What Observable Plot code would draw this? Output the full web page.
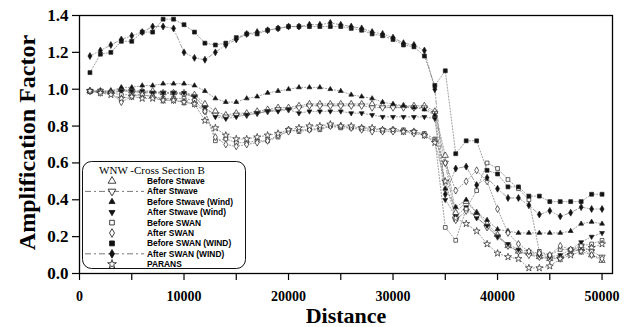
<!DOCTYPE html>
<html><head><meta charset="utf-8">
<script src="https://cdn.jsdelivr.net/npm/d3@7"></script>
<script src="https://cdn.jsdelivr.net/npm/@observablehq/plot@0.6"></script>
<style>
body{margin:0;background:#fff;}
#wrap{position:relative;width:629px;height:327px;}
#legend{position:absolute;left:82px;top:161px;}
</style></head><body><div id="wrap"></div>
<script>
const distance = [1000,2000,3000,4000,5000,6000,7000,8000,9000,10000,11000,12000,13000,14000,15000,16000,17000,18000,19000,20000,21000,22000,23000,24000,25000,26000,27000,28000,29000,30000,31000,32000,33000,34000,35000,36000,37000,38000,39000,40000,41000,42000,43000,44000,45000,46000,47000,48000,49000,50000];
const seriesNames = ["Before Stwave","After Stwave","Before Stwave (Wind)","After Stwave (Wind)","Before SWAN","After SWAN","Before SWAN (WIND)","After SWAN (WIND)","PARANS"];
const legendTitle = "WNW -Cross Section B";
const xTicks = [0,5000,10000,15000,20000,25000,30000,35000,40000,45000,50000];
const yTicks = [0,0.2,0.4,0.6,0.8,1.0,1.2,1.4];

const beforeStwave = [0.99,0.99,0.99,1.00,0.99,0.99,0.99,0.98,0.98,0.98, 0.97,0.92,0.88,0.86,0.87,0.87,0.88,0.89,0.90,0.90, 0.91,0.92,0.92,0.92,0.92,0.92,0.92,0.92,0.91,0.91, 0.91,0.91,0.91,0.88,0.64,0.33,0.39,0.33,0.27,0.21, 0.15,0.12,0.11,0.09,0.08,0.09,0.11,0.14,0.10,0.07];
const afterStwave = [0.99,0.99,0.98,0.99,0.99,0.98,0.98,0.98,0.98,0.97, 0.96,0.90,0.86,0.85,0.86,0.86,0.87,0.88,0.89,0.89, 0.90,0.91,0.91,0.91,0.91,0.91,0.91,0.90,0.90,0.90, 0.90,0.90,0.90,0.87,0.60,0.29,0.34,0.31,0.25,0.20, 0.15,0.12,0.10,0.09,0.08,0.08,0.12,0.15,0.12,0.09];
const beforeStwaveWind = [0.99,0.99,0.99,1.01,1.01,1.02,1.02,1.03,1.03,1.03, 1.02,0.99,0.95,0.93,0.93,0.95,0.96,0.98,0.99,1.00, 1.01,1.01,1.01,1.00,0.99,0.97,0.96,0.95,0.93,0.92, 0.91,0.90,0.89,0.86,0.46,0.36,0.40,0.33,0.29,0.24, 0.23,0.22,0.22,0.22,0.22,0.22,0.23,0.27,0.28,0.27];
const afterStwaveWind = [0.99,0.98,0.98,0.99,0.99,0.99,0.98,0.98,0.98,0.98, 0.96,0.90,0.85,0.84,0.85,0.86,0.87,0.88,0.88,0.89, 0.87,0.88,0.88,0.88,0.88,0.87,0.87,0.86,0.85,0.85, 0.85,0.85,0.85,0.84,0.40,0.31,0.36,0.30,0.26,0.20, 0.16,0.13,0.12,0.10,0.09,0.10,0.13,0.17,0.20,0.22];
const beforeSWAN = [0.99,0.99,0.98,0.97,0.97,0.97,0.96,0.95,0.95,0.95, 0.94,0.88,0.72,0.73,0.71,0.71,0.72,0.72,0.74,0.78, 0.77,0.78,0.78,0.80,0.79,0.79,0.79,0.78,0.78,0.78, 0.78,0.77,0.76,0.73,0.25,0.18,0.35,0.45,0.60,0.57, 0.51,0.46,0.40,0.12,0.10,0.13,0.13,0.15,0.16,0.18];
const afterSWAN = [0.99,0.98,0.98,0.93,0.96,0.97,0.96,0.94,0.94,0.93, 0.92,0.88,0.74,0.70,0.69,0.70,0.71,0.72,0.75,0.77, 0.78,0.78,0.79,0.80,0.80,0.79,0.78,0.77,0.77,0.77, 0.77,0.76,0.75,0.72,0.60,0.45,0.50,0.56,0.50,0.35, 0.22,0.16,0.12,0.11,0.10,0.15,0.13,0.12,0.10,0.08];
const beforeSWANWind = [1.09,1.19,1.20,1.26,1.26,1.31,1.31,1.38,1.38,1.35, 1.31,1.25,1.24,1.25,1.28,1.30,1.30,1.32,1.33,1.34, 1.34,1.34,1.34,1.34,1.34,1.33,1.32,1.30,1.29,1.27, 1.24,1.23,1.18,1.02,1.10,0.65,0.72,0.72,0.56,0.54, 0.47,0.47,0.42,0.42,0.39,0.39,0.39,0.39,0.43,0.43];
const afterSWANWind = [1.18,1.21,1.24,1.27,1.29,1.31,1.34,1.34,1.33,1.20, 1.17,1.16,1.20,1.24,1.27,1.30,1.31,1.32,1.33,1.34, 1.34,1.35,1.35,1.36,1.35,1.34,1.33,1.31,1.30,1.28, 1.25,1.24,1.21,1.00,0.43,0.57,0.58,0.48,0.52,0.46, 0.41,0.41,0.37,0.32,0.34,0.31,0.33,0.36,0.35,0.35];
const parans = [0.99,0.98,0.97,0.95,0.96,0.95,0.95,0.94,0.94,0.93, 0.92,0.83,0.79,0.75,0.73,0.73,0.74,0.75,0.76,0.78, 0.79,0.80,0.80,0.81,0.80,0.80,0.79,0.79,0.78,0.78, 0.77,0.77,0.75,0.71,0.50,0.30,0.27,0.23,0.16,0.11, 0.09,0.08,0.03,0.03,0.04,0.08,0.10,0.12,0.14,0.16];

const seriesValues = [beforeStwave, afterStwave, beforeStwaveWind, afterStwaveWind, beforeSWAN, afterSWAN, beforeSWANWind, afterSWANWind, parans];

// custom down-pointing triangle symbol
const triDown = {
  draw(context, size) {
    const s3 = Math.sqrt(3);
    const y = -Math.sqrt(size / (s3 * 3));
    context.moveTo(0, -y * 2);
    context.lineTo(-s3 * y, y);
    context.lineTo(s3 * y, y);
    context.closePath();
  }
};
const dotted = "1.2,1.8", dashdot = "4,2,1,2";
const styles = [
  {symbol: "triangle", r: 2.3, fill: "white", dash: dotted},
  {symbol: triDown, r: 2.3, fill: "white", dash: dashdot},
  {symbol: "triangle", r: 1.8, fill: "#111", dash: dotted},
  {symbol: triDown, r: 1.8, fill: "#111", dash: dotted},
  {symbol: "square", r: 2.1, fill: "white", dash: dotted},
  {symbol: "diamond", r: 2.1, fill: "white", dash: dotted},
  {symbol: "square", r: 2.2, fill: "#111", dash: dotted},
  {symbol: "diamond", r: 2.1, fill: "#111", dash: dashdot},
  {symbol: "star", r: 2.2, fill: "white", dash: dotted}
];

const marks = [];
seriesNames.forEach((name, k) => {
  const rows = distance.map((d, i) => ({x: d, y: seriesValues[k][i]}));
  const st = styles[k];
  marks.push(Plot.line(rows, {x: "x", y: "y", stroke: "#777", strokeWidth: 0.7, strokeDasharray: st.dash}));
});
seriesNames.forEach((name, k) => {
  const rows = distance.map((d, i) => ({x: d, y: seriesValues[k][i]}));
  const st = styles[k];
  marks.push(Plot.dot(rows, {x: "x", y: "y", symbol: st.symbol, r: st.r, fill: st.fill, stroke: "#222", strokeWidth: 0.7}));
});

const serif = "'Liberation Serif','Times New Roman',serif";
const chart = Plot.plot({
  width: 629, height: 327,
  marginLeft: 79, marginRight: 17, marginTop: 15, marginBottom: 54,
  style: {background: "white", color: "black", fontFamily: serif, fontWeight: "bold", fontSize: "14px"},
  x: {domain: [0, 51000]},
  y: {domain: [0, 1.4]},
  marks: [
    Plot.axisX({ticks: xTicks, tickSize: 7, tickPadding: 11, tickFormat: d => d % 10000 === 0 ? String(d) : "", label: null, fontSize: 14, fontWeight: "bold", strokeWidth: 1.2}),
    Plot.axisY({ticks: yTicks, tickSize: 7, tickPadding: 4, tickFormat: d => d.toFixed(1), label: null, fontSize: 17, fontWeight: "bold", strokeWidth: 1.2}),
    ...marks,
    Plot.frame({stroke: "black", strokeWidth: 1.3}),
    Plot.text(["Amplification Factor"], {frameAnchor: "left", dx: -52, dy: -2, rotate: -90, text: d => d, fontSize: 24, fontWeight: "bold", fontFamily: serif, textAnchor: "middle"}),
    Plot.text(["Distance"], {frameAnchor: "bottom", dy: 42, text: d => d, fontSize: 22, fontWeight: "bold", fontFamily: serif, textAnchor: "middle", lineAnchor: "middle"})
  ]
});
const wrap = document.getElementById("wrap");
wrap.appendChild(chart);

// legend overlay
const lw = 163, lh = 107;
const leg = d3.select(wrap).append("svg").attr("id", "legend").attr("width", lw + 2).attr("height", lh + 2);
leg.append("rect").attr("x", 0.5).attr("y", 0.5).attr("width", lw).attr("height", lh).attr("rx", 9)
  .attr("fill", "white").attr("stroke", "#111").attr("stroke-width", 1);
leg.append("text").attr("x", 70).attr("y", 13).attr("text-anchor", "middle")
  .attr("font-family", serif).attr("font-size", 11).text(legendTitle);
seriesNames.forEach((name, k) => {
  const st = styles[k];
  const y = 20 + k * 10.4;
  if (st.dash === dashdot) {
    leg.append("line").attr("x1", 3).attr("x2", 62).attr("y1", y).attr("y2", y)
      .attr("stroke", "#555").attr("stroke-width", 0.8).attr("stroke-dasharray", "6,3,2,3");
  }
  const symType = typeof st.symbol === "string"
    ? {triangle: d3.symbolTriangle, square: d3.symbolSquare, diamond: d3.symbolDiamond, star: d3.symbolStar}[st.symbol]
    : st.symbol;
  const big = st.r * 1.25;
  leg.append("path").attr("transform", `translate(30,${y})`)
    .attr("d", d3.symbol(symType, Math.PI * big * big)())
    .attr("fill", st.fill).attr("stroke", "#111").attr("stroke-width", 0.8);
  leg.append("text").attr("x", 65).attr("y", y + 3).attr("font-family", "'Liberation Sans',Arial,sans-serif")
    .attr("font-size", 8.4).attr("font-weight", "600").text(name);
});
</script></body></html>
